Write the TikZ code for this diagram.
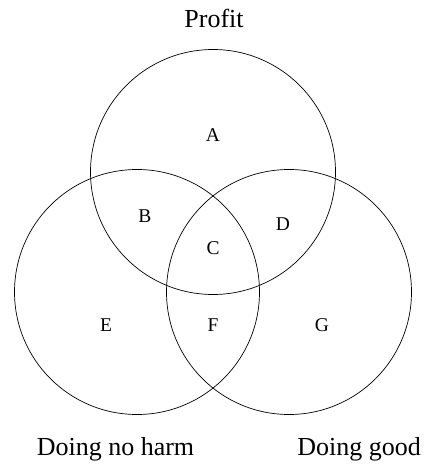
\documentclass[tikz,border=0pt]{standalone}
\usepackage{fontspec}
\setmainfont{Liberation Serif}
\usepackage{tikz}

\begin{document}
\begin{tikzpicture}[x=1pt, y=-1pt, line width=0.7pt,
    set/.style={draw, circle, minimum size=245pt, inner sep=0pt},
    region/.style={font=\fontsize{19.5}{22}\selectfont},
    title/.style={anchor=base, font=\fontsize{26}{30}\selectfont}]
    \useasboundingbox (0, 0) rectangle (428, 470);

    \node[set] at (213, 172) (profit) {};
    \node[set] at (137, 292) (noharm) {};
    \node[set] at (289, 292) (good) {};

    \node[title] at (214, 28) (tprofit) {Profit};
    \node[title] at (115.5, 455) (tnoharm) {Doing no harm};
    \node[title] at (359, 455) (tgood) {Doing good};

    \node[region] at (213, 135) (A) {A};
    \node[region] at (145, 216) (B) {B};
    \node[region] at (213, 248) (C) {C};
    \node[region] at (283, 224) (D) {D};
    \node[region] at (106, 325) (E) {E};
    \node[region] at (213, 325) (F) {F};
    \node[region] at (322, 325) (G) {G};
\end{tikzpicture}
\end{document}
